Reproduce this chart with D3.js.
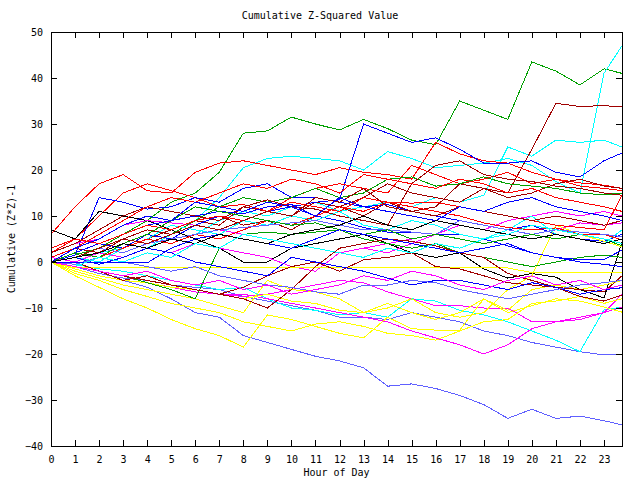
<!DOCTYPE html>
<html>
<head>
<meta charset="utf-8">
<script src="https://cdn.jsdelivr.net/npm/d3@7"></script>
<style>
  body { margin: 0; background: #fff; }
  svg { display: block; }
  text { font-family: "DejaVu Sans Mono", monospace; font-size: 10px; fill: #000; }
</style>
</head>
<body>
<svg id="chart" width="640" height="480"></svg>
<script>
// hours of the day at which each walk is sampled
const hours = [0,1,2,3,4,5,6,7,8,9,10,11,12,13,14,15,16,17,18,19,20,21,22,23,23.75];
const xTicks = [0,1,2,3,4,5,6,7,8,9,10,11,12,13,14,15,16,17,18,19,20,21,22,23];
const yTicks = [-40,-30,-20,-10,0,10,20,30,40,50];

const walkColors = [
  "#00a000", "#00ffff", "#00ffff", "#a00000", "#ff0000", "#0000ff", "#ff0000", "#a00000",
  "#0000ff", "#000000", "#6060ff", "#6060ff", "#00ffff", "#ff00ff", "#ff00ff", "#ff00ff",
  "#ff00ff", "#ffff00", "#ffff00", "#ffff00", "#ffff00", "#ffff00", "#00a000", "#00a000",
  "#a00000", "#a00000", "#a00000", "#0000ff", "#0000ff", "#00ffff", "#ff0000", "#ff0000",
  "#6060ff", "#6060ff", "#00a000", "#0000ff", "#ff0000", "#a00000", "#0000ff", "#000000",
  "#00ffff", "#ff00ff"
];

// cumulative (z*z)-1
const walks = [
  [0,1.5,3,6,9,13,15,19.5,28,28.5,31.5,30,28.7,31,29,26.5,25.5,35,33,31,43.5,41.5,38.5,42,41],
  [0,1,2,4,3,6,9,14,20.5,22.5,23,22.5,22,20,24,22.5,20.5,21,21.5,22.5,21,17.5,15,41,47],
  [0,1,0,3,5,4,6,9,11,10,12,13,11,12,13,12,14,13,14.5,25,23,26.5,26,26.5,25],
  [0,2,4,3,5,7,9,8,12,11,10,13,12,14,17,15,14,13,16,15,24.5,34.5,33.8,34,33.7],
  [6,12,17,19,15.5,15,19.5,21.5,22,21,20,19,20.5,19.5,19,18,26,23.5,22,21.5,19.5,18,17.2,16.7,16],
  [0,2,4,3,6,5,8,10,9,11,12,13,13.5,30,28,26,27,24.5,21.5,21.5,22,19.5,18.5,22,23.7],
  [2,5,10,15,17,15.5,14,12,12.5,11,14,16,17,16,15,21,19,17,18,19.5,17,18,16.5,16,15.5],
  [1,3,2,5,7,6,9,10,8,9,7,10,12,10,13,11,12,17,16,14,15,17,18,16.5,16],
  [0,1.5,14,13,11.5,12,14,13,16,17,14,14,13,12,12.5,11,10,9,8,7,8,6,5,4.5,6],
  [7,5,11,10,9,7,5,3,0,0,3,4,5,6,4,2,1,2,-1.5,-3.5,-2.5,-3.3,-6,-7.8,4.3],
  [0,-1.5,-3,-4,-5.5,-8,-11,-12,-16,-17.5,-19,-20.5,-21.5,-23,-27,-26.5,-27.5,-29,-31,-34,-32,-34,-33.5,-34.5,-35.4],
  [0,-1,-2.5,-3.5,-4,-5,-5.5,-6,-7.5,-8.5,-9.5,-10.5,-12,-12,-12.5,-11,-12,-13,-15,-16,-17.5,-18.5,-19.5,-20.2,-20.2],
  [0,-0.5,-1.5,-2,-3,-4,-5,-6,-5.5,-8,-10,-10.5,-11.5,-11,-12,-8,-8.5,-10.5,-11.5,-13,-15,-17,-19.5,-10.4,-9.8],
  [0,-1,-2,-3,-4.5,-5.5,-6.5,-7,-7,-8,-9,-10,-11,-12,-13,-15,-16.5,-18,-20,-18,-14.5,-13,-12,-11,-9.8],
  [0,-1,-2,-3,-4,-5,-6,-7,-7.5,-7,-6,-5,-4,-4.5,-6.5,-8,-9.5,-9.5,-10,-10,-13,-13,-12.5,-11,-7],
  [1,0,2,1,3,2,4,3,2,1,-1,-2,2,3,4,5,6,5,4,5,6,7,8.5,8,8.5],
  [2,4,5,8,9,8.5,8,7,6,5,4,3,2,3,2,4,6,8,7,9,10,11,10,11,10],
  [0,-1.3,-1.3,-1.3,-1.3,-1.3,-1.3,-1.3,-1.3,-1.3,-1.3,-1.3,-1.3,-1.3,-1.3,-1.3,-1.3,-1.3,-1.3,-1.3,-2.3,-2.3,-2.3,-2.3,-2.3],
  [0,-3,-5.5,-8,-10,-12.5,-14.5,-16,-18.5,-11.5,-12.5,-14,-15.5,-16.5,-12,-14.5,-14.8,-14.8,-8,-11,-9.5,-8,-8.5,-9.8,-10.9],
  [0,-2,-3.5,-5,-6,-7,-8,-9.5,-11,-4,-6,-6.5,-8,-11,-10,-8,-11,-12,-11,-6,-3,8,6,4.5,3.3],
  [0,-1.5,-3,-4,-4.5,-5.5,-6,-7,-8,-7,-8.5,-9,-10.5,-11,-9,-11,-12.5,-11,-8,-10.5,-6,-5,-6,-5,-4],
  [0,-2.5,-4,-6,-7.5,-9,-10,-11,-13,-14,-15,-13.5,-13,-14,-15.5,-16,-17,-15,-13,-12.5,-9,-8.5,-7.5,-9,-8],
  [0,1,3,2,4,6,9,12,14,13,14,16,14,15,18,18.5,16.5,17,18.5,17,16.5,16,15,14.6,15],
  [0,-1,-2,-3,-4.5,-6,-8,3,6,6.5,6,6.5,7,5,4,3,4,2,1,0,-1,0,1,1.5,1],
  [0,-1,-2,-3,-4,-5,-6,-7,-8,-10,-6,-1,3,4,5,4.5,3.5,2,1,-2.5,-4,-5.5,-7.5,-8.5,-7.2],
  [0,0,-2,-4,-3,-5,-6,-7,-5.5,-3,-1,0,-2,0.5,1,2,-1,-1.5,-3,-4.5,-5,-5.5,-6,-6.5,-3],
  [2,4,7,10,12,11,10,9,12,13.5,12,11.5,10,9,8,17,21,22,19,18,17.5,16.5,16,15,14.5],
  [0,1,-0.5,1,3,2,0,-1,-2,-3,1,0,-1,-2,-3.5,-5,-4,-4,-5,-6,-4.5,-5.5,-7,-6,-5.6],
  [0,2,4,6,8,9,10,11,10.5,12,12.5,10,9,7.5,6.5,6.5,6,6,5,3.5,2,1,0.5,0.5,2.6],
  [0,1,2,3,5,8,7,6,9,8,10,9,11,8,7,9,8,6,5,7,10,6,5,4,7],
  [0,2,1,3,5,4,6,5,7,9,8,10,12,11,13,12,11,10,8.5,7.5,7,7.4,6,6,4.8],
  [3,5,4,6,8,7,9,10,9,11,13,12,11,14,13,12.8,13,12,11,10,9,8,7.5,7,14.5],
  [0,1,3,2,4,5,6,7,7.5,8,8.5,9,8,7,7,6.5,6,9,8,7,6,7,6.5,6,5.5],
  [0,-0.5,1,0,-1,-2,-1,-3,-4,-5,-5.5,-6.5,-7,-5,-5,-4,-4.5,-6,-7,-8,-7,-6,-5,-4.5,-4],
  [0,2,1,4,6,9,12,11,10,9,8,8.5,7,6,7,5,6,5,4,5,6,5,6,5,3.5],
  [0,-0.2,-0.2,-0.2,-0.2,3,5,6,5,4,3,5,7,6,5,4,3,2,3,4,2,1,0,-0.5,-1],
  [1,3,6,9,12,14,13,15,17,16,18,17,15,19,18,17,16,18,17,15,16,14,13,12,11],
  [0,1,3,5,4,6,8,7,9,11,10,14,13,16,12,11,10,12,11,10,9,10,9,8,9],
  [0,3,5,8,10,9,13,12,11,13,12,10,14,12,11,10,9,12,11,13,14,12,11,10,9],
  [0,1,2,4,3,5,4,6,5,4,6,7,8,10,8,7,9,8,7,6,5,6,5,4,5],
  [0,-1,1,0,2,1,4,3,6,5,4,3,2,1,3,2,4,3,5,6,8,7,6,5,4],
  [0,-1,-2,-3,-2,-4,-5,-4,-6,-5,-7,-6,-5,-3,-4,-2,-3,-5,-6,-4,-3,-5,-4,-6,-5]
];

const svg = d3.select("#chart");
const plot = { left: 51, right: 622, top: 32, bottom: 446 };

const x = d3.scaleLinear().domain([0, 23.75]).range([plot.left, plot.right]);
const y = d3.scaleLinear().domain([-40, 50]).range([plot.bottom, plot.top]);

const line = d3.line()
  .x((d, i) => x(hours[i]))
  .y(d => y(d));

// walks
svg.append("g").selectAll("path")
  .data(walks).enter().append("path")
  .attr("d", line)
  .attr("fill", "none")
  .attr("stroke", (d, i) => walkColors[i % walkColors.length])
  .attr("stroke-width", 1)
  .attr("shape-rendering", "crispEdges");

// axes, ticks pointing inward like gnuplot, mirrored on top/right
svg.append("g").attr("transform", `translate(0,${plot.bottom})`)
  .call(d3.axisBottom(x).tickValues(xTicks).tickSize(-6).tickPadding(10));
svg.append("g").attr("transform", `translate(${plot.left},0)`)
  .call(d3.axisLeft(y).tickValues(yTicks).tickSize(-6).tickPadding(8));
svg.append("g").attr("transform", `translate(0,${plot.top})`)
  .call(d3.axisTop(x).tickValues(xTicks).tickSize(-6).tickFormat(""));
svg.append("g").attr("transform", `translate(${plot.right},0)`)
  .call(d3.axisRight(y).tickValues(yTicks).tickSize(-6).tickFormat(""));

svg.selectAll(".domain").remove();
svg.selectAll(".tick line").attr("stroke", "#000").attr("shape-rendering", "crispEdges");
svg.selectAll(".tick text").attr("fill", "#000")
  .style("font-family", '"DejaVu Sans Mono", monospace').style("font-size", "10px");

svg.append("rect")
  .attr("x", plot.left).attr("y", plot.top)
  .attr("width", plot.right - plot.left).attr("height", plot.bottom - plot.top)
  .attr("fill", "none").attr("stroke", "#000")
  .attr("shape-rendering", "crispEdges");

// titles
svg.append("text").attr("x", 320).attr("y", 19)
  .attr("text-anchor", "middle").text("Cumulative Z-Squared Value");
svg.append("text").attr("x", (plot.left + plot.right) / 2).attr("y", 476)
  .attr("text-anchor", "middle").text("Hour of Day");
svg.append("text")
  .attr("transform", `translate(15,${(plot.top + plot.bottom) / 2}) rotate(-90)`)
  .attr("text-anchor", "middle").text("Cumulative (Z*Z)-1");
</script>
</body>
</html>
